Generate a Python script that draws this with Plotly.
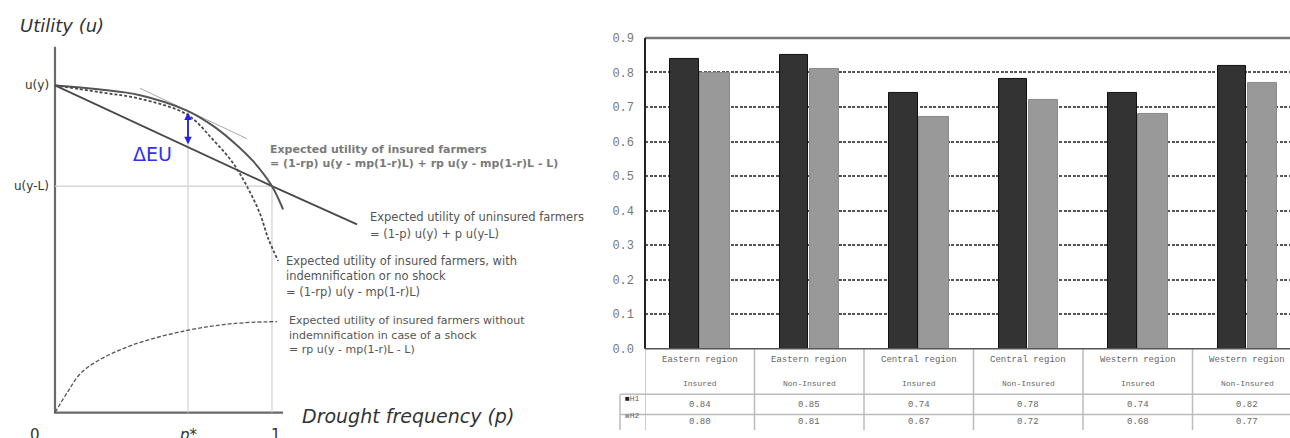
import plotly.graph_objects as go

W, H = 1290, 438

# ---------------- Left panel: utility diagram (conceptual data) ----------------
p_star = 0.613
u_y = 1.0
u_yL = 0.692

# uninsured expected utility (straight line)
unins_p = [0.0, 1.0, 1.392]
unins_u = [1.0, 0.692, 0.575]

# insured expected utility (solid concave curve)
ins_p = [0.0, 0.20, 0.392, 0.608, 0.72, 0.820, 0.912, 1.0, 1.051]
ins_u = [1.0, 0.988, 0.970, 0.923, 0.880, 0.828, 0.769, 0.692, 0.621]

# insured with indemnification or no shock (dashed)
ind_p = [0.0, 0.207, 0.392, 0.608, 0.728, 0.820, 0.889, 0.945, 0.982, 1.028]
ind_u = [1.0, 0.979, 0.959, 0.911, 0.834, 0.763, 0.686, 0.607, 0.533, 0.464]

# insured without indemnification in case of shock (dashed, lower)
noind_p = [0.0, 0.06, 0.115, 0.194, 0.359, 0.608, 0.820, 1.023]
noind_u = [0.0, 0.065, 0.118, 0.157, 0.207, 0.251, 0.272, 0.278]

# tangent at p*
tan_p = [0.392, 0.885]
tan_u = [0.991, 0.837]

# ---------------- Right panel: bar chart ----------------
regions = ["Eastern region", "Eastern region", "Central region",
           "Central region", "Western region", "Western region"]
status = ["Insured", "Non-Insured", "Insured", "Non-Insured", "Insured", "Non-Insured"]
series1 = [0.84, 0.85, 0.74, 0.78, 0.74, 0.82]
series2 = [0.80, 0.81, 0.67, 0.72, 0.68, 0.77]
series_names = ["H1", "H2"]
y_ticks = [0.0, 0.1, 0.2, 0.3, 0.4, 0.5, 0.6, 0.7, 0.8, 0.9]


def px(x):
    return x / W


def py(y):
    return 1 - y / H


fig = go.Figure()

line_dark = "#4a4a4a"
# axes of the diagram
fig.add_trace(go.Scatter(x=[0, 0, 1.051], y=[1.118, 0, 0], mode="lines",
                         line=dict(color="#6a6a6a", width=2.2), hoverinfo="skip",
                         xaxis="x", yaxis="y"))
# guide lines
fig.add_trace(go.Scatter(x=[0, 1.0, 1.0], y=[u_yL, u_yL, 0], mode="lines",
                         line=dict(color="#d0d0d0", width=1.2), hoverinfo="skip",
                         xaxis="x", yaxis="y"))
fig.add_trace(go.Scatter(x=[p_star, p_star], y=[0.92, 0], mode="lines",
                         line=dict(color="#d0d0d0", width=1.2), hoverinfo="skip",
                         xaxis="x", yaxis="y"))
# tangent
fig.add_trace(go.Scatter(x=tan_p, y=tan_u, mode="lines",
                         line=dict(color="#a8a8a8", width=1), hoverinfo="skip",
                         xaxis="x", yaxis="y"))
# curves
fig.add_trace(go.Scatter(x=unins_p, y=unins_u, mode="lines",
                         line=dict(color=line_dark, width=1.8), hoverinfo="skip",
                         xaxis="x", yaxis="y"))
fig.add_trace(go.Scatter(x=ins_p, y=ins_u, mode="lines", line_shape="spline",
                         line=dict(color="#555555", width=2), hoverinfo="skip",
                         xaxis="x", yaxis="y"))
fig.add_trace(go.Scatter(x=ind_p, y=ind_u, mode="lines", line_shape="spline",
                         line=dict(color=line_dark, width=1.8, dash="3px,2px"), hoverinfo="skip",
                         xaxis="x", yaxis="y"))
fig.add_trace(go.Scatter(x=noind_p, y=noind_u, mode="lines", line_shape="spline",
                         line=dict(color="#555555", width=1.3, dash="4px,2px"), hoverinfo="skip",
                         xaxis="x", yaxis="y"))

# bars
xpos = [i + 0.5 for i in range(len(regions))]
fig.add_trace(go.Bar(x=xpos, y=series1, offset=-0.27, width=0.26,
                     marker=dict(color="#333333", line=dict(color="#111111", width=1)),
                     hoverinfo="skip", xaxis="x2", yaxis="y2"))
fig.add_trace(go.Bar(x=xpos, y=series2, offset=0.005, width=0.27,
                     marker=dict(color="#999999", line=dict(color="#8a8a8a", width=1)),
                     hoverinfo="skip", xaxis="x2", yaxis="y2"))

annotations = []
shapes = []

# ---- left panel text ----
sans = "DejaVu Sans"
annotations.append(dict(x=px(18), y=py(20), xref="paper", yref="paper", xanchor="left",
                        yanchor="middle", showarrow=False, text="<i>Utility (u)</i>",
                        font=dict(family=sans, size=18, color="#333333")))
annotations.append(dict(x=px(300), y=py(424), xref="paper", yref="paper", xanchor="left",
                        yanchor="middle", showarrow=False, text="<i>Drought frequency (p)</i>",
                        font=dict(family=sans, size=19, color="#333333")))
annotations.append(dict(x=px(51), y=u_y, xref="paper", yref="y", xanchor="right",
                        yanchor="middle", showarrow=False, text="u(y)",
                        font=dict(family=sans, size=12, color="#333333")))
annotations.append(dict(x=px(51), y=u_yL, xref="paper", yref="y", xanchor="right",
                        yanchor="middle", showarrow=False, text="u(y-L)",
                        font=dict(family=sans, size=12, color="#333333")))
for lab, xv in [("0", 0.0), ("p*", p_star), ("1", 1.0)]:
    annotations.append(dict(x=xv - (0.09 if lab == "0" else 0) + (0.02 if lab == "1" else 0),
                            y=py(443), xref="x", yref="paper", xanchor="center",
                            yanchor="middle", showarrow=False,
                            text=("<i>p*</i>" if lab == "p*" else lab),
                            font=dict(family=sans, size=15, color="#333333")))
# delta EU arrow
annotations.append(dict(x=p_star, y=0.917, ax=p_star, ay=0.82, xref="x", yref="y",
                        axref="x", ayref="y", showarrow=True, arrowhead=2, arrowsize=1,
                        arrowwidth=1.5, arrowcolor="#2222ee", text=""))
annotations.append(dict(x=p_star, y=0.82, ax=p_star, ay=0.917, xref="x", yref="y",
                        axref="x", ayref="y", showarrow=True, arrowhead=2, arrowsize=1,
                        arrowwidth=1.5, arrowcolor="#2222ee", text=""))
annotations.append(dict(x=px(131), y=py(153), xref="paper", yref="paper", xanchor="left",
                        yanchor="middle", showarrow=False, text="ΔEU",
                        font=dict(family=sans, size=19, color="#3030ee")))


def note(x, y, lines, color, size=11, step=16, bold_first=False):
    for i, t in enumerate(lines):
        txt = "<b>" + t + "</b>" if bold_first else t
        annotations.append(dict(x=px(x), y=py(y + i * step), xref="paper", yref="paper",
                                xanchor="left", yanchor="middle", showarrow=False, text=txt,
                                font=dict(family=sans, size=size, color=color)))


note(268, 148, ["Expected utility of insured farmers",
                "= (1-rp) u(y - mp(1-r)L) + rp u(y - mp(1-r)L - L)"], "#7a7a7a",
     size=11, step=15, bold_first=True)
note(368, 218, ["Expected utility of uninsured farmers", "= (1-p) u(y) + p u(y-L)"],
     "#555555", size=11.5, step=18)
note(284, 263, ["Expected utility of insured farmers, with", "indemnification or no shock",
                "= (1-rp) u(y - mp(1-r)L)"], "#555555", size=11.5, step=16)
note(287, 325, ["Expected utility of insured farmers without",
                "indemnification in case of a shock", "= rp u(y - mp(1-r)L - L)"],
     "#555555", size=11, step=15)

# ---- right panel: table under the bars ----
tfont = dict(family="Liberation Mono", size=9, color="#666666")
col_w = 109.5
xr_max = (W - 645) / col_w
grid_col = "#bbbbbb"
for i in range(len(regions)):
    annotations.append(dict(x=xpos[i], y=py(366), xref="x2", yref="paper", showarrow=False,
                            text=regions[i], font=tfont, yanchor="middle"))
    annotations.append(dict(x=xpos[i], y=py(390), xref="x2", yref="paper", showarrow=False,
                            text=status[i],
                            font=dict(family="Liberation Mono", size=8, color="#666666"),
                            yanchor="middle"))
    annotations.append(dict(x=xpos[i], y=py(412), xref="x2", yref="paper", showarrow=False,
                            text=f"{series1[i]:.2f}", font=tfont, yanchor="middle"))
    annotations.append(dict(x=xpos[i], y=py(430), xref="x2", yref="paper", showarrow=False,
                            text=f"{series2[i]:.2f}", font=tfont, yanchor="middle"))
annotations.append(dict(x=px(632), y=py(412), xref="paper", yref="paper", showarrow=False,
                        text="<span style='color:#222'>■</span>" + series_names[0],
                        font=dict(family="Liberation Mono", size=8, color="#666666")))
annotations.append(dict(x=px(632), y=py(430), xref="paper", yref="paper", showarrow=False,
                        text="<span style='color:#999'>■</span>" + series_names[1],
                        font=dict(family="Liberation Mono", size=8, color="#666666")))

for k in range(len(regions) + 1):
    shapes.append(dict(type="line", xref="x2", yref="paper", x0=k, x1=k,
                       y0=py(354), y1=py(H), line=dict(color=grid_col, width=1.5)))
for yy in [401, 422]:
    shapes.append(dict(type="line", xref="paper", yref="paper", x0=px(620), x1=1,
                       y0=py(yy), y1=py(yy), line=dict(color=grid_col, width=1.5)))
shapes.append(dict(type="line", xref="paper", yref="paper", x0=px(620), x1=px(620),
                   y0=py(401), y1=py(H), line=dict(color=grid_col, width=1.5)))
# plot frame
shapes.append(dict(type="line", xref="paper", yref="paper", x0=px(645), x1=1,
                   y0=py(33), y1=py(33), line=dict(color="#777777", width=2.5)))
shapes.append(dict(type="line", xref="paper", yref="paper", x0=px(645), x1=px(645),
                   y0=py(33), y1=py(354), line=dict(color="#222222", width=2)))
shapes.append(dict(type="line", xref="paper", yref="paper", x0=px(645), x1=1,
                   y0=py(354), y1=py(354), line=dict(color="#555555", width=1.5)))

left_scale = 217.0
fig.update_layout(
    width=W, height=H,
    margin=dict(l=0, r=0, t=0, b=0),
    paper_bgcolor="white", plot_bgcolor="rgba(0,0,0,0)",
    showlegend=False,
    xaxis=dict(domain=[0, 645 / W], range=[-55 / left_scale, (645 - 55) / left_scale],
               visible=False, fixedrange=True),
    yaxis=dict(domain=[0, 1], range=[-18 / 338, 420 / 338], visible=False, fixedrange=True),
    xaxis2=dict(domain=[645 / W, 1], range=[0, xr_max], visible=False, fixedrange=True),
    yaxis2=dict(domain=[py(354), py(33)], range=[0, 0.9], anchor="x2",
                tickvals=y_ticks, ticktext=[f"{v:.1f}" for v in y_ticks],
                showgrid=True, gridcolor="#555555", gridwidth=1.5, griddash="3px,1.5px",
                zeroline=False, showline=False, ticks="", ticklabelstandoff=10,
                tickfont=dict(family="Liberation Mono", size=12, color="#777777")),
    annotations=annotations,
    shapes=shapes,
    bargap=0,
)

fig.write_html(
    "out.html",
    config={"displayModeBar": False},
    post_script="document.body.style.margin='0';document.body.style.overflow='hidden';",
)
